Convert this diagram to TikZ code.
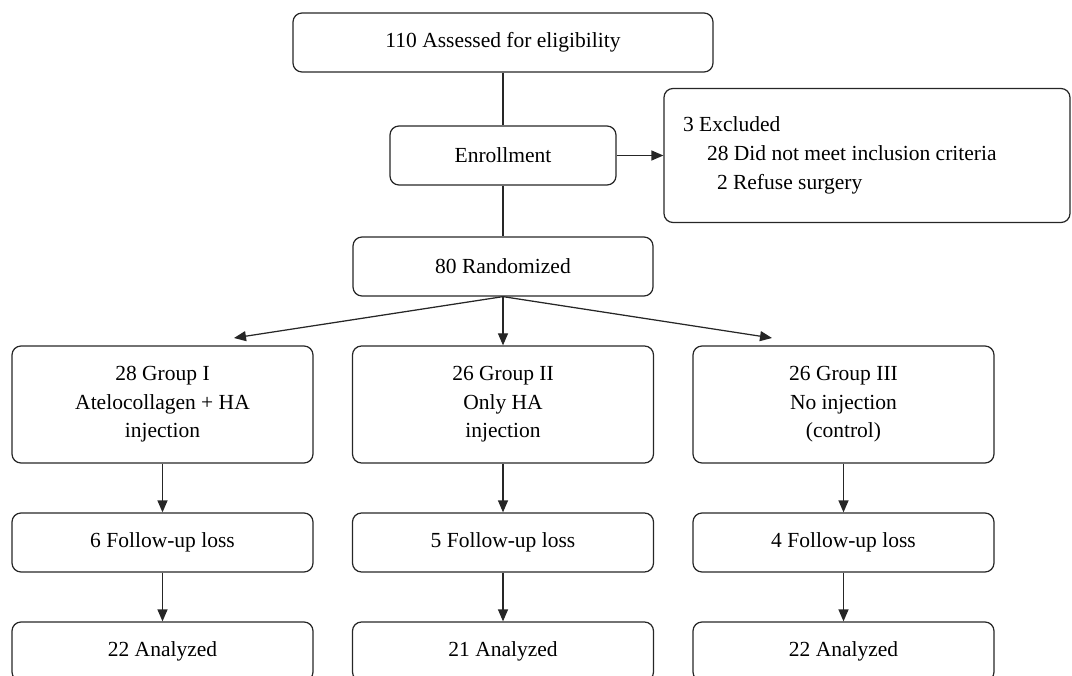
\documentclass[tikz,border=0pt]{standalone}
\usepackage{fontspec}
\setmainfont{Liberation Serif}
\usetikzlibrary{arrows.meta}

\tikzset{
   box/.style={draw=black!85, line width=1.25pt, rounded corners=9pt, align=center,
      inner sep=0pt, font=\fontsize{21.5}{28.5}\selectfont},
   link/.style={draw=black!85, line width=1.25pt},
   arr/.style={link, -{Triangle[length=12pt,width=10pt]}}
}

\begin{document}
\begin{tikzpicture}[x=1pt,y=-1pt]
   \useasboundingbox (0,0) rectangle (1072,676);
   \clip (0,0) rectangle (1072,676);

   \node[box, minimum width=420pt, minimum height=59pt] (assess) at (503,42.5) {110 Assessed for eligibility};
   \node[box, minimum width=226pt, minimum height=59pt] (enroll) at (503,155.5) {Enrollment};
   \node[box, minimum width=406pt, minimum height=134pt, text width=368pt, align=flush left, font=\fontsize{21.5}{29}\selectfont]
      (excl) at (867,155.5) {3 Excluded\\\hspace*{24pt}28 Did not meet inclusion criteria\\\hspace*{34pt}2 Refuse surgery};
   \node[box, minimum width=300pt, minimum height=59pt] (rand) at (503,266.5) {80 Randomized};

   \node[box, minimum width=301pt, minimum height=117pt] (gI) at (162.5,404.5) {28 Group I\\Atelocollagen + HA\\injection};
   \node[box, minimum width=301pt, minimum height=117pt] (gII) at (503,404.5) {26 Group II\\Only HA\\injection};
   \node[box, minimum width=301pt, minimum height=117pt] (gIII) at (843.5,404.5) {26 Group III\\No injection\\(control)};

   \node[box, minimum width=301pt, minimum height=59pt] (fI) at (162.5,542.5) {6 Follow-up loss};
   \node[box, minimum width=301pt, minimum height=59pt] (fII) at (503,542.5) {5 Follow-up loss};
   \node[box, minimum width=301pt, minimum height=59pt] (fIII) at (843.5,542.5) {4 Follow-up loss};

   \node[box, minimum width=301pt, minimum height=59pt] (aI) at (162.5,651.5) {22 Analyzed};
   \node[box, minimum width=301pt, minimum height=59pt] (aII) at (503,651.5) {21 Analyzed};
   \node[box, minimum width=301pt, minimum height=59pt] (aIII) at (843.5,651.5) {22 Analyzed};

   \coordinate (tipI) at (234,338);
   \coordinate (tipIII) at (772,338);

   \draw[link] (assess.south) -- (enroll.north);
   \draw[link] (enroll.south) -- (rand.north);
   \draw[arr] (enroll.east) -- (excl.west);

   \draw[arr] (rand.south) -- (tipI);
   \draw[arr] (rand.south) -- (gII.north);
   \draw[arr] (rand.south) -- (tipIII);

   \draw[arr] (gI.south) -- (fI.north);
   \draw[arr] (gII.south) -- (fII.north);
   \draw[arr] (gIII.south) -- (fIII.north);

   \draw[arr] (fI.south) -- (aI.north);
   \draw[arr] (fII.south) -- (aII.north);
   \draw[arr] (fIII.south) -- (aIII.north);
\end{tikzpicture}
\end{document}
